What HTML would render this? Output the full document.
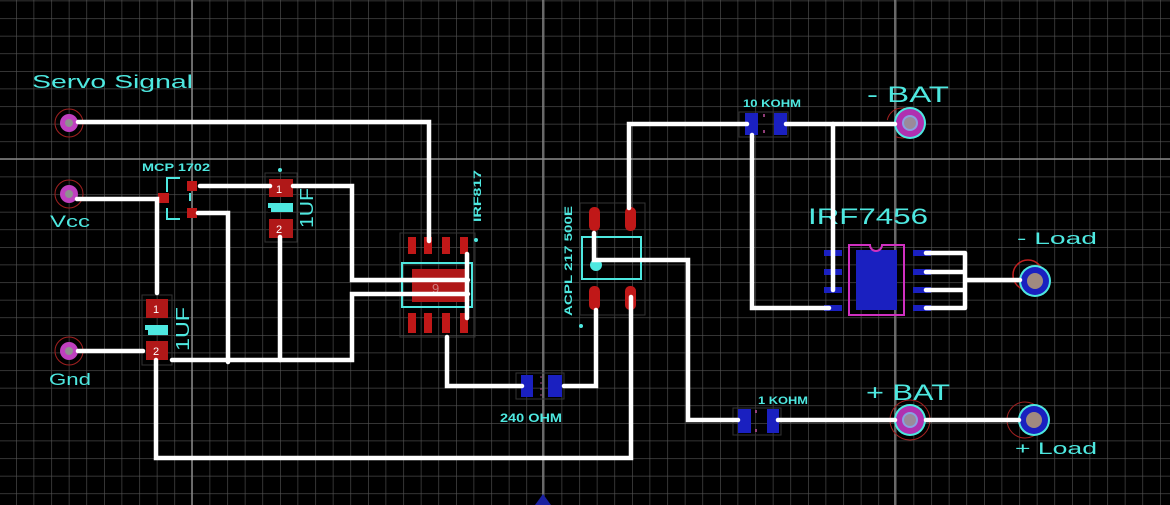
<!DOCTYPE html>
<html><head><meta charset="utf-8"><style>
html,body{margin:0;padding:0;background:#000;width:1170px;height:505px;overflow:hidden}
svg{display:block}
text{font-family:"Liberation Sans",sans-serif;fill:#4ee8e0}
</style></head><body>
<svg width="1170" height="505" viewBox="0 0 1170 505" xmlns="http://www.w3.org/2000/svg">
<defs>
<pattern id="g" x="16" y="0.6" width="17.6" height="17.6" patternUnits="userSpaceOnUse">
<path d="M0 0H17.6M0 0V17.6" stroke="#555" stroke-width="1.2" fill="none"/>
</pattern>
</defs>
<rect width="1170" height="505" fill="#000"/>
<rect width="1170" height="505" fill="url(#g)"/>
<path d="M192 0V505M543 0V505M895 0V505M0 159H1170" stroke="#8a8a8a" stroke-width="1.5"/>

<g lengthAdjust="spacingAndGlyphs">
<text x="32" y="88" font-size="18" textLength="161" lengthAdjust="spacingAndGlyphs">Servo Signal</text>
<text x="50" y="227" font-size="17" textLength="40" lengthAdjust="spacingAndGlyphs">Vcc</text>
<text x="49" y="385" font-size="17" textLength="42" lengthAdjust="spacingAndGlyphs">Gnd</text>
<text x="142" y="171" font-size="11" font-weight="bold" textLength="68" lengthAdjust="spacingAndGlyphs">MCP 1702</text>
<text x="500" y="422" font-size="12" font-weight="bold" textLength="62" lengthAdjust="spacingAndGlyphs">240 OHM</text>
<text x="743" y="107" font-size="11" font-weight="bold" textLength="58" lengthAdjust="spacingAndGlyphs">10 KOHM</text>
<text x="758" y="404" font-size="11" font-weight="bold" textLength="50" lengthAdjust="spacingAndGlyphs">1 KOHM</text>
<text x="808" y="224" font-size="22" textLength="120" lengthAdjust="spacingAndGlyphs">IRF7456</text>
<text x="867" y="102" font-size="22" textLength="82" lengthAdjust="spacingAndGlyphs">- BAT</text>
<text x="866" y="400" font-size="22" textLength="84" lengthAdjust="spacingAndGlyphs">+ BAT</text>
<text x="1017" y="244" font-size="17" textLength="80" lengthAdjust="spacingAndGlyphs">- Load</text>
<text x="1015" y="454" font-size="17" textLength="82" lengthAdjust="spacingAndGlyphs">+ Load</text>
<text transform="translate(313,228) rotate(-90)" font-size="18" textLength="40" lengthAdjust="spacingAndGlyphs">1UF</text>
<text transform="translate(189,351) rotate(-90)" font-size="18" textLength="44" lengthAdjust="spacingAndGlyphs">1UF</text>
<text transform="translate(481,222) rotate(-90)" font-size="11" font-weight="bold" textLength="52" lengthAdjust="spacingAndGlyphs">IRF817</text>
<text transform="translate(572,316) rotate(-90)" font-size="11" font-weight="bold" textLength="110" lengthAdjust="spacingAndGlyphs">ACPL 217 500E</text>
</g>

<g>
<circle cx="69" cy="123" r="14" fill="none" stroke="#a02020" stroke-width="1"/>
<circle cx="69" cy="123" r="9" fill="#c040c0"/><circle cx="69" cy="123" r="4" fill="#909090"/>
<circle cx="69" cy="194" r="14" fill="none" stroke="#a02020" stroke-width="1"/>
<circle cx="69" cy="194" r="9" fill="#c040c0"/><circle cx="69" cy="194" r="4" fill="#909090"/>
<circle cx="69" cy="351" r="14" fill="none" stroke="#a02020" stroke-width="1"/>
<circle cx="69" cy="351" r="9" fill="#c040c0"/><circle cx="69" cy="351" r="4" fill="#909090"/>
</g>

<path d="M180 178H167V192M167 208V219H180" stroke="#4ee8e0" stroke-width="2" fill="none"/>
<rect x="158" y="193" width="11" height="10" fill="#c01818"/>
<rect x="187" y="181" width="10" height="10" fill="#c01818"/>
<rect x="187" y="208" width="10" height="10" fill="#c01818"/>
<rect x="189" y="193" width="2" height="8" fill="#4ee8e0"/>

<rect x="265" y="173" width="32" height="69" fill="none" stroke="#333" stroke-width="1"/>
<circle cx="280" cy="170" r="2" fill="#4ee8e0"/>
<rect x="269" y="179" width="24" height="18" fill="#b01818"/>
<rect x="268" y="203" width="25" height="9" fill="#4ee8e0"/>
<rect x="268" y="208" width="3" height="4" fill="#000"/>
<rect x="269" y="219" width="24" height="19" fill="#b01818"/>
<text x="276" y="193" font-size="11" style="fill:#fff">1</text>
<text x="276" y="233" font-size="11" style="fill:#fff">2</text>

<rect x="142" y="295" width="30" height="70" fill="none" stroke="#333" stroke-width="1"/>
<rect x="146" y="299" width="22" height="19" fill="#b01818"/>
<rect x="145" y="325" width="23" height="10" fill="#4ee8e0"/>
<rect x="145" y="330" width="3" height="5" fill="#000"/>
<rect x="146" y="341" width="22" height="19" fill="#b01818"/>
<text x="153" y="313" font-size="11" style="fill:#fff">1</text>
<text x="153" y="355" font-size="11" style="fill:#fff">2</text>

<rect x="400" y="233" width="75" height="104" fill="none" stroke="#333" stroke-width="1"/>
<circle cx="476" cy="240" r="2" fill="#4ee8e0"/>
<g fill="#c01818">
<rect x="408" y="237" width="8" height="17"/><rect x="424" y="237" width="8" height="17"/><rect x="442" y="237" width="8" height="17"/><rect x="460" y="237" width="8" height="17"/>
<rect x="408" y="313" width="8" height="20"/><rect x="424" y="313" width="8" height="20"/><rect x="442" y="313" width="8" height="20"/><rect x="460" y="313" width="8" height="20"/>
</g>
<rect x="402" y="263" width="70" height="44" fill="none" stroke="#4ee8e0" stroke-width="2"/>
<rect x="412" y="269" width="53" height="33" fill="#b01818"/>
<text x="432" y="293" font-size="13" style="fill:#d08080">9</text>

<rect x="516" y="373" width="48" height="26" fill="none" stroke="#333"/>
<rect x="521" y="375" width="12" height="22" fill="#1a20c0"/>
<rect x="548" y="375" width="14" height="22" fill="#1a20c0"/>
<path d="M541 376V396" stroke="#a04080" stroke-width="1" stroke-dasharray="2 4"/>
<path d="M535 505L543 494L551 505Z" fill="#1a20a0"/>

<rect x="580" y="203" width="65" height="112" fill="none" stroke="#333"/>
<g fill="#c01818">
<rect x="589" y="207" width="11" height="24" rx="5"/><rect x="625" y="207" width="11" height="24" rx="5"/>
<rect x="589" y="286" width="11" height="24" rx="5"/><rect x="625" y="286" width="11" height="24" rx="5"/>
</g>
<rect x="582" y="237" width="59" height="42" fill="none" stroke="#4ee8e0" stroke-width="2"/>
<circle cx="596" cy="265" r="6" fill="#4ee8e0"/>
<circle cx="581" cy="326" r="2" fill="#4ee8e0"/>

<rect x="739" y="112" width="49" height="25" fill="none" stroke="#333"/>
<rect x="745" y="113" width="13" height="22" fill="#1a20c0"/>
<rect x="774" y="113" width="13" height="22" fill="#1a20c0"/>
<path d="M764 114V134" stroke="#c050a0" stroke-width="1.5" stroke-dasharray="3 13"/>
<rect x="733" y="408" width="48" height="27" fill="none" stroke="#333"/>
<rect x="738" y="409" width="13" height="24" fill="#1a20c0"/>
<rect x="767" y="409" width="12" height="24" fill="#1a20c0"/>
<path d="M756 410V432" stroke="#c050a0" stroke-width="1.5" stroke-dasharray="3 16"/>

<g fill="#1a20c0">
<rect x="824" y="250" width="18" height="6"/><rect x="824" y="269" width="18" height="6"/><rect x="824" y="287" width="18" height="6"/><rect x="824" y="305" width="18" height="6"/>
<rect x="913" y="250" width="18" height="6"/><rect x="913" y="269" width="18" height="6"/><rect x="913" y="287" width="18" height="6"/><rect x="913" y="305" width="18" height="6"/>
<rect x="856" y="250" width="41" height="60"/>
</g>
<path d="M849 245H870A6 6 0 0 0 882 245H904V315H849Z" fill="none" stroke="#d030c0" stroke-width="2"/>

<circle cx="902" cy="123" r="15" fill="none" stroke="#a02020" stroke-width="1" stroke-dasharray="30 20"/>
<circle cx="910" cy="123" r="16" fill="#4ee8e0"/><circle cx="910" cy="123" r="14" fill="#b030b0"/>
<circle cx="910" cy="123" r="8" fill="#8aa0e0"/><circle cx="910" cy="123" r="6" fill="#9a8a9a"/>
<circle cx="910" cy="420" r="20" fill="none" stroke="#a02020" stroke-width="1"/>
<circle cx="910" cy="420" r="16" fill="#4ee8e0"/><circle cx="910" cy="420" r="14" fill="#b030b0"/>
<circle cx="910" cy="420" r="8" fill="#8aa0e0"/><circle cx="910" cy="420" r="6" fill="#9a8a9a"/>
<circle cx="1028" cy="275" r="15" fill="none" stroke="#c02020" stroke-width="1.5"/>
<circle cx="1035" cy="281" r="16" fill="#4ee8e0"/><circle cx="1035" cy="281" r="14" fill="#1a20c0"/>
<circle cx="1035" cy="281" r="8" fill="#a08a80"/>
<circle cx="1025" cy="420" r="18" fill="none" stroke="#a02020" stroke-width="1"/>
<circle cx="1034" cy="420" r="16" fill="#4ee8e0"/><circle cx="1034" cy="420" r="14" fill="#1a20c0"/>
<circle cx="1034" cy="420" r="8" fill="#a08a80"/>

<g stroke="#fff" stroke-width="4.5" fill="none" stroke-linecap="round" stroke-linejoin="miter">
<path d="M78 122H429V241"/>
<path d="M77 199H157V293"/>
<path d="M200 186H270"/>
<path d="M198 213H228V362"/>
<path d="M293 186H352V280H468"/>
<path d="M280 237V360"/>
<path d="M78 351H143"/>
<path d="M172 360H352V294H468"/>
<path d="M467 254V318"/>
<path d="M156 360V458H631V297"/>
<path d="M447 337V386H522"/>
<path d="M564 386H596V310"/>
<path d="M629 208V124H747"/>
<path d="M594 233V260H688V420H738"/>
<path d="M786 124H895"/>
<path d="M833 124V290"/>
<path d="M752 135V308H829"/>
<path d="M926 253H965M926 272H965M926 290H965M926 308H965M965 253V308M965 280H1020"/>
<path d="M778 420H895"/>
<path d="M926 420H1019"/>
</g>
</svg>
</body></html>
